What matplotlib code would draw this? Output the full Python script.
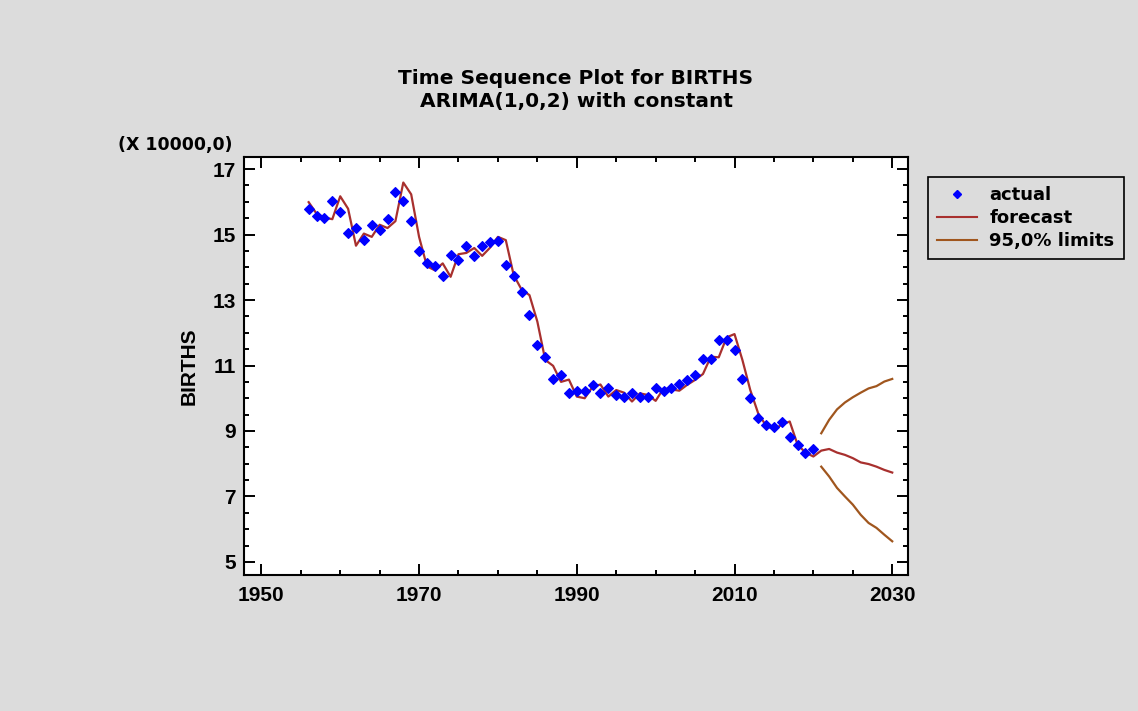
import matplotlib
matplotlib.use("Agg")
import matplotlib.pyplot as plt
from matplotlib.ticker import MultipleLocator
from matplotlib.lines import Line2D

plt.rcParams['font.family'] = ['Liberation Sans', 'DejaVu Sans']

# ---- data (in units of 10000) ----
actual_years = list(range(1956, 2021))
actual = [15.79, 15.57, 15.52, 16.02, 15.69, 15.04, 15.20, 14.83, 15.30, 15.13,
          15.47, 16.29, 16.02, 15.41, 14.50, 14.12, 14.05, 13.74, 14.39, 14.22,
          14.65, 14.34, 14.65, 14.77, 14.81, 14.06, 13.73, 13.24, 12.54, 11.62,
          11.25, 10.60, 10.70, 10.16, 10.22, 10.22, 10.41, 10.16, 10.32, 10.10,
          10.04, 10.16, 10.04, 10.04, 10.32, 10.22, 10.32, 10.45, 10.55, 10.71,
          11.19, 11.19, 11.78, 11.78, 11.46, 10.60, 10.00, 9.41, 9.19, 9.13,
          9.26, 8.81, 8.58, 8.32, 8.45]

forecast_years = list(range(1956, 2031))
forecast = [15.99, 15.64, 15.52, 15.47, 16.17, 15.79, 14.66, 15.03, 14.93, 15.30,
            15.20, 15.41, 16.59, 16.23, 14.93, 14.03, 13.91, 14.12, 13.71, 14.40,
            14.44, 14.59, 14.35, 14.60, 14.93, 14.83, 13.76, 13.32, 13.15, 12.34,
            11.17, 10.99, 10.50, 10.57, 10.05, 10.00, 10.35, 10.42, 10.05, 10.25,
            10.17, 9.90, 10.15, 10.10, 9.92, 10.30, 10.27, 10.23, 10.41, 10.56,
            10.74, 11.27, 11.25, 11.86, 11.96, 11.17, 10.25, 9.54, 9.16, 9.05,
            9.19, 9.29, 8.58, 8.34, 8.22, 8.40, 8.45, 8.34, 8.27, 8.17,
            8.04, 7.99, 7.91, 7.81, 7.73]

limit_years = list(range(2021, 2031))
upper = [8.93, 9.34, 9.66, 9.87, 10.03, 10.17, 10.30, 10.37, 10.51, 10.59]
lower = [7.91, 7.61, 7.26, 7.00, 6.75, 6.44, 6.19, 6.04, 5.83, 5.63]

x_ticks = [1950, 1970, 1990, 2010, 2030]
y_ticks = [5, 7, 9, 11, 13, 15, 17]

bg = '#dcdcdc'
c_actual = '#0000ff'
c_fore = '#a8302e'
c_lim = '#a0561e'

title_font = ['DejaVu Sans']
tick_font = ['Liberation Sans']

fig = plt.figure(figsize=(11.38, 7.11), dpi=100, facecolor=bg)
ax = fig.add_axes([244/1138, 1-575/711, (908-244)/1138, (575-157)/711])
ax.set_facecolor('white')

ax.plot(forecast_years, forecast, color=c_fore, lw=1.6, zorder=2)
ax.plot(limit_years, upper, color=c_lim, lw=1.6, zorder=2)
ax.plot(limit_years, lower, color=c_lim, lw=1.6, zorder=2)
ax.plot(actual_years, actual, linestyle='none', marker='D', markersize=5,
        color=c_actual, markeredgewidth=0.8, zorder=3)

ax.set_xlim(1947.8, 2032.0)
ax.set_ylim(4.6, 17.37)
ax.set_xticks(x_ticks)
ax.set_yticks(y_ticks)
ax.xaxis.set_minor_locator(MultipleLocator(5))
ax.yaxis.set_minor_locator(MultipleLocator(0.5))

ax.tick_params(which='both', direction='in', top=True, right=True, width=1.4)
ax.tick_params(which='major', length=8)
ax.tick_params(which='minor', length=3.5)
ax.set_xticklabels([str(v) for v in x_ticks], fontsize=15, fontweight='bold',
                   family=tick_font)
ax.set_yticklabels([str(v) for v in y_ticks], fontsize=15, fontweight='bold',
                   family=tick_font)
ax.tick_params(axis='x', pad=8)
ax.tick_params(axis='y', pad=6)
for sp in ax.spines.values():
    sp.set_linewidth(1.5)

ax.set_ylabel('BIRTHS', fontsize=15, fontweight='bold', labelpad=10)

fig.text(576/1138, 1-78/711, 'Time Sequence Plot for BIRTHS', ha='center', va='center',
         fontsize=14.5, fontweight='bold', family=title_font)
fig.text(576/1138, 1-101/711, 'ARIMA(1,0,2) with constant', ha='center', va='center',
         fontsize=14.5, fontweight='bold', family=title_font)
fig.text(233/1138, 1-145/711, '(X 10000,0)', ha='right', va='center',
         fontsize=12.5, fontweight='bold', family=title_font)

handles = [Line2D([], [], linestyle='none', marker='D', markersize=4, color=c_actual),
           Line2D([], [], color=c_fore, lw=1.5),
           Line2D([], [], color=c_lim, lw=1.5)]
leg = fig.legend(handles, ['actual', 'forecast', '95,0% limits'],
                 loc='upper left', bbox_to_anchor=(928/1138, 1-177/711),
                 frameon=True, fancybox=False, framealpha=1, facecolor=bg,
                 edgecolor='black',
                 prop={'size': 13, 'weight': 'bold', 'family': title_font},
                 handlelength=2.2, handletextpad=0.7, labelspacing=0.28,
                 borderpad=0.5, borderaxespad=0)
leg.get_frame().set_linewidth(1.2)

fig.savefig('out.png', dpi=100, facecolor=bg)
